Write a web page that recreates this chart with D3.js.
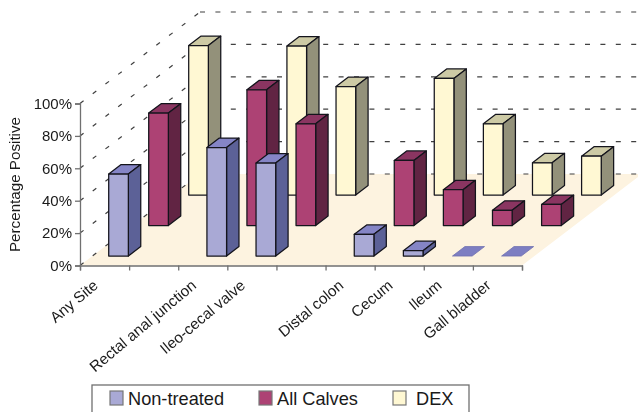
<!DOCTYPE html>
<html><head><meta charset="utf-8">
<script src="https://cdn.jsdelivr.net/npm/d3@7/dist/d3.min.js"></script>
<style>html,body{margin:0;padding:0;background:#fff;overflow:hidden}svg{display:block;filter:blur(0.45px)}
text{font-family:"Liberation Sans",Arial,sans-serif;fill:#1a1a1a}</style></head><body>
<svg id="c" width="638" height="412"></svg>
<script>
const categories=["Any Site","","Rectal anal junction","Ileo-cecal valve","","Distal colon","Cecum","Ileum","Gall bladder"];
const seriesNames=["Non-treated","All Calves","DEX"];
const nonTreated=[50.6,null,67,57.4,null,13.4,3.3,0,0];
const allCalves=[69.4,null,83.8,62.8,null,40.2,22.1,9.4,13];
const dex=[92.3,null,92,67,null,72,44,19.9,24];
const yTicks=[0,20,40,60,80,100];
const seriesValues=[nonTreated,allCalves,dex];
const frontColors=["#a9a9d5","#ad4274","#fff8d3"];
const sideColors=["#5c6197","#612443","#93917a"];
const topColors=["#8585c6","#8a3561","#cdcaa5"];

const svg=d3.select("#c");
const xs=d3.scaleLinear().domain([0,9]).range([80,522]);
const ys=d3.scaleLinear().domain([0,100]).range([265.5,103.5]);
const depthX=d3.scaleLinear().domain([0,3]).range([0,120]);
const depthY=d3.scaleLinear().domain([0,3]).range([0,-91.5]);
const px=(s,d)=>xs(s)+depthX(d), py=(v,d)=>ys(v)+depthY(d);
const pt=(s,d,v)=>[px(s,d),py(v,d)];
const line=d3.line();
const poly=a=>line(a)+"Z";

svg.append("path").attr("d",poly([pt(0,0,0),pt(9,0,0),pt(9,3,0),pt(0,3,0)])).attr("fill","#fdf3e0");

const grid=svg.append("g").attr("fill","none").attr("stroke","#404040").attr("stroke-width",1.2);
yTicks.forEach(v=>{
  grid.append("path").attr("d",line([pt(0,0,v),pt(0,3,v)])).attr("stroke-dasharray","4.5 11.5");
  grid.append("path").attr("d",line([pt(0,3,v),pt(9,3,v)])).attr("stroke-dasharray","5 10.4");
});

const barW=0.4, barStart=0.332, rowStart=0.31, rowDepth=0.31;
const bars=svg.append("g").attr("stroke","#14141c").attr("stroke-width",1.25).attr("stroke-linejoin","round");
[2,1,0].forEach(r=>{
  seriesValues[r].forEach((v,i)=>{
    if(v===null)return;
    const s0=i+barStart,s1=s0+barW,d0=r+rowStart,d1=d0+rowDepth;
    const flat=v===0;
    const g=bars.append("g");
    if(flat){g.attr("stroke","#6f70b0").attr("stroke-width",0.8);}
    g.append("path").attr("d",poly([pt(s0,d0,v),pt(s1,d0,v),pt(s1,d1,v),pt(s0,d1,v)])).attr("fill",flat?"#7d7ec2":topColors[r]);
    if(flat)return;
    g.append("path").attr("d",poly([pt(s1,d0,0),pt(s1,d1,0),pt(s1,d1,v),pt(s1,d0,v)])).attr("fill",sideColors[r]);
    g.append("path").attr("d",poly([pt(s0,d0,0),pt(s1,d0,0),pt(s1,d0,v),pt(s0,d0,v)])).attr("fill",frontColors[r]);
  });
});

const yAxis=svg.append("g").attr("transform","translate(80,0)")
  .call(d3.axisLeft(ys).tickValues(yTicks).tickSize(5).tickPadding(3).tickFormat(d=>d+"%"));
const xAxis=svg.append("g").attr("transform","translate(0,265.5)")
  .call(d3.axisBottom(xs).ticks(9).tickSize(5).tickFormat(""));
[yAxis,xAxis].forEach(a=>{a.select(".domain").attr("stroke","#707070").attr("stroke-width",1.3);
  a.selectAll(".tick line").attr("stroke","#707070").attr("stroke-width",1.3);});
yAxis.selectAll("text").attr("font-size",15).attr("font-family",'"Liberation Sans",Arial,sans-serif');

svg.append("text").attr("transform","translate(20,184.5) rotate(-90)").attr("text-anchor","middle")
  .attr("font-size",15.2).text("Percentage Positive");

svg.append("g").selectAll("text").data(categories.map((c,i)=>[c,i]).filter(d=>d[0])).join("text")
  .attr("transform",d=>`translate(${xs(d[1]+0.5)-5.5},287) rotate(-40)`)
  .attr("text-anchor","end").attr("font-size",15.3).text(d=>d[0]);

const legend=svg.append("g");
legend.append("rect").attr("x",92).attr("y",385).attr("width",377).attr("height",40).attr("fill","#fff").attr("stroke","#707070").attr("stroke-width",1.3);
const keyX=[110,259,393], textX=[128,277,416];
seriesNames.forEach((n,i)=>{
  legend.append("rect").attr("x",keyX[i]).attr("y",391).attr("width",13).attr("height",14)
    .attr("fill",frontColors[i]).attr("stroke","#777").attr("stroke-width",1.2);
  legend.append("text").attr("x",textX[i]).attr("y",404.5).attr("font-size",18.2).text(n);
});
</script></body></html>
